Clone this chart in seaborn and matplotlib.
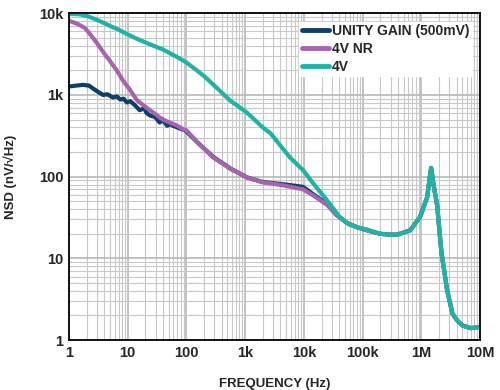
import numpy as np
import pandas as pd
import seaborn as sns
import matplotlib.pyplot as plt
from matplotlib.ticker import LogLocator, FixedLocator, FixedFormatter, NullFormatter

# values (frequency in Hz, NSD in nV/rtHz)
unity_freq = [1, 1.3, 1.73, 2.2, 2.56, 3.2, 3.8, 4.5, 5.6, 6.5, 7.5, 8.5, 9.7, 11, 13,
              16, 19, 21, 24, 29, 35, 40, 47, 52, 59, 70, 80, 95,
              152, 285, 550, 1070, 2000, 2700, 5000, 9700, 14400, 25000, 36000, 55000,
              81000, 120000, 200000, 300000, 390000, 645000, 950000, 1260000, 1400000,
              1470000, 1600000, 1860000, 2200000, 2750000, 3400000, 4200000, 5100000,
              7000000, 10000000]
unity_nsd = [1270, 1300, 1330, 1300, 1200, 1080, 1000, 1020, 930, 960, 880, 900, 810, 840,
             760, 650, 690, 600, 560, 540, 460, 490, 420, 440, 420, 400, 385, 370,
             265, 175, 127, 98, 86, 84, 80, 75, 61, 46, 34, 27,
             24, 22, 20, 19.5, 19.5, 22, 32, 56, 100,
             128, 83, 45, 12, 4.1, 2.1, 1.7, 1.5, 1.4, 1.45]

nr_freq = [1, 1.4, 1.87, 2.4, 3, 4, 5, 6.5, 8.3, 11, 14.4, 18, 24, 30, 35, 45, 52, 70,
           88, 100, 152, 285, 550, 1070, 2000, 2700, 5000, 9700, 14400, 25000, 36000,
           55000, 81000, 120000, 200000, 300000, 390000, 645000, 950000, 1260000,
           1400000, 1470000, 1600000, 1860000, 2200000, 2750000, 3400000, 4200000,
           5100000, 7000000, 10000000]
nr_nsd = [8100, 7400, 6600, 5300, 4300, 3200, 2600, 2000, 1500, 1150, 860, 760, 650, 580,
          530, 480, 460, 420, 380, 370, 265, 172, 126, 98, 85, 83, 77, 70, 59, 45, 34,
          27, 24, 22, 20, 19.5, 19.5, 22, 32, 56, 100, 128, 83, 45, 12, 4.1, 2.1, 1.7,
          1.5, 1.4, 1.45]

v4_freq = [1, 1.5, 2, 3, 5, 7, 10, 15, 20, 30, 40, 50, 70, 100, 150, 200, 300, 550, 1070,
           2000, 2700, 5800, 9700, 14400, 25000, 41000, 55000, 60000, 81000, 120000,
           200000, 300000, 390000, 645000, 950000, 1260000, 1400000, 1470000, 1600000,
           1860000, 2200000, 2750000, 3400000, 4200000, 5100000, 7000000, 10000000]
v4_nsd = [9800, 9700, 9300, 8300, 7000, 6300, 5500, 4800, 4400, 3900, 3600, 3300, 2900,
          2500, 2000, 1700, 1300, 860, 610, 400, 340, 172, 120, 83, 51, 32, 27, 26, 24,
          22.5, 20, 19.5, 19.5, 22, 32, 56, 100, 128, 83, 45, 12, 4.1, 2.1, 1.7, 1.5,
          1.4, 1.45]

series = ["UNITY GAIN (500mV)", "4V NR", "4V"]
colors = ["#0d3f6e", "#a863b0", "#1fb3a8"]

df = pd.concat([
    pd.DataFrame({"freq": unity_freq, "nsd": unity_nsd, "series": series[0]}),
    pd.DataFrame({"freq": nr_freq, "nsd": nr_nsd, "series": series[1]}),
    pd.DataFrame({"freq": v4_freq, "nsd": v4_nsd, "series": series[2]}),
])

sns.set_style("white")
plt.rcParams['font.family'] = ['Liberation Sans', 'DejaVu Sans']

fig = plt.figure(figsize=(5, 3.9), dpi=100)
ax = fig.add_axes([0.138, 0.128, 0.822, 0.838])

sns.lineplot(data=df, x="freq", y="nsd", hue="series", hue_order=series,
             palette=colors, linewidth=3, sort=False, errorbar=None,
             estimator=None, ax=ax)

ax.set_xscale("log")
ax.set_yscale("log")
ax.set_xlim(1, 1e7)
ax.set_ylim(1, 1e4)

xt = [1, 10, 100, 1e3, 1e4, 1e5, 1e6, 1e7]
xl = ["1", "10", "100", "1k", "10k", "100k", "1M", "10M"]
yt = [1, 10, 100, 1e3, 1e4]
yl = ["1", "10", "100", "1k", "10k"]
ax.xaxis.set_major_locator(FixedLocator(xt))
ax.xaxis.set_major_formatter(FixedFormatter(xl))
ax.yaxis.set_major_locator(FixedLocator(yt))
ax.yaxis.set_major_formatter(FixedFormatter(yl))
ax.xaxis.set_minor_locator(LogLocator(base=10, subs=np.arange(2, 10), numticks=20))
ax.yaxis.set_minor_locator(LogLocator(base=10, subs=np.arange(2, 10), numticks=20))
ax.xaxis.set_minor_formatter(NullFormatter())
ax.yaxis.set_minor_formatter(NullFormatter())

ax.grid(which="major", color="#b8b8b8", linewidth=1.2)
ax.grid(which="minor", color="#c8c8c8", linewidth=0.8)
ax.set_axisbelow(True)
ax.tick_params(which="both", length=0, labelsize=10.5, pad=4)
for lab in ax.get_xticklabels() + ax.get_yticklabels():
    lab.set_fontweight("bold")
for s in ax.spines.values():
    s.set_linewidth(1.3)
    s.set_color("black")

ax.set_xlabel("FREQUENCY (Hz)", fontsize=9.5, fontweight="bold", labelpad=13)
ax.set_ylabel("NSD (nV/\u221aHz)", fontsize=9.5, fontweight="bold", labelpad=16)

leg = ax.legend(loc="upper right", frameon=True, fontsize=10, handlelength=2.0,
                borderaxespad=0.6, labelspacing=0.3, handletextpad=0.2,
                borderpad=0.15, fancybox=False)
leg.get_frame().set_edgecolor("white")
leg.get_frame().set_facecolor("white")
leg.get_frame().set_alpha(1)
for t in leg.get_texts():
    t.set_fontweight("bold")
for l in leg.get_lines():
    l.set_linewidth(3.5)

fig.savefig("out.png", dpi=100)
